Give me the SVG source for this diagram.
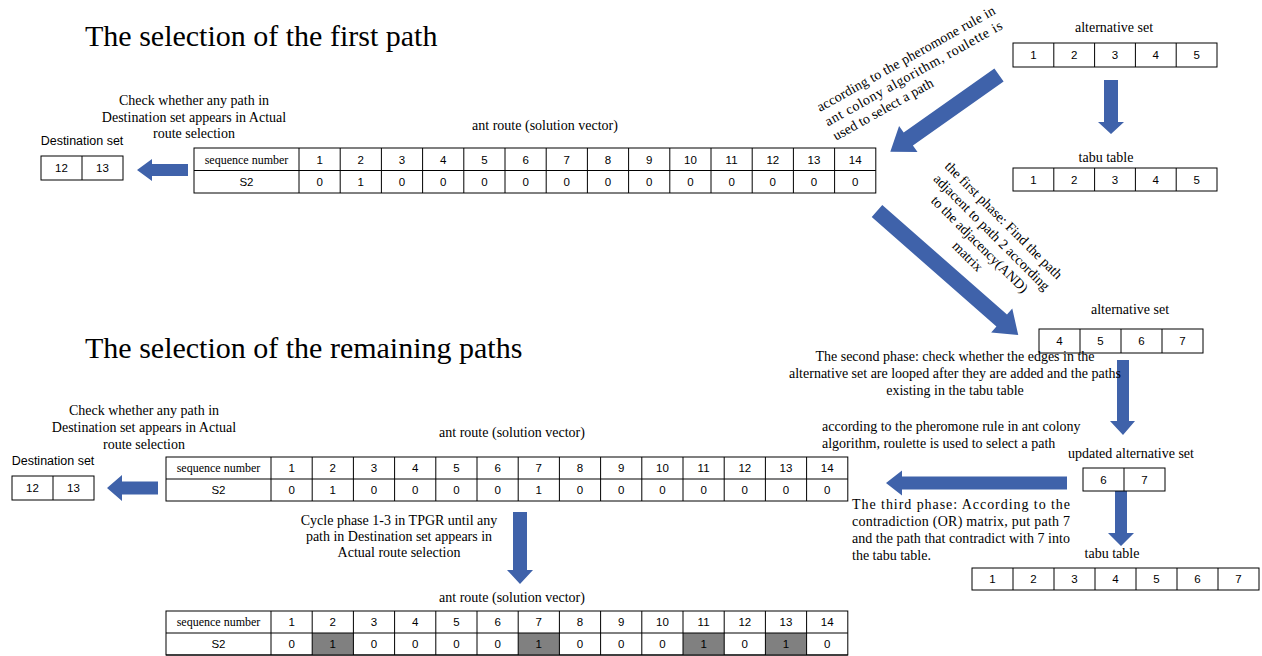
<svg xmlns="http://www.w3.org/2000/svg" width="1262" height="656" viewBox="0 0 1262 656">
<style>
.bg{fill:#fff}
.cell{fill:#fff;stroke:#000;stroke-width:1}
.grid{fill:none;stroke:#000;stroke-width:1}
.hl{fill:#808080}
.n{font-family:"Liberation Sans",Arial,sans-serif;font-size:11.5px;text-anchor:middle;fill:#000}
.s{font-family:"Liberation Serif","Times New Roman",serif;font-size:12px;text-anchor:middle;fill:#000}
.t{font-family:"Liberation Serif","Times New Roman",serif;font-size:14px;fill:#000}
.tc{font-family:"Liberation Serif","Times New Roman",serif;font-size:14px;fill:#000;text-anchor:middle}
.lab{font-family:"Liberation Sans",Arial,sans-serif;font-size:12.5px;fill:#000;text-anchor:middle}
.title{font-family:"Liberation Serif","Times New Roman",serif;font-size:30px;fill:#000}
.arr{fill:#3F62AA}
</style>
<rect class="bg" x="0" y="0" width="1262" height="656"/>

<g id="titles">
<text class="title" x="85" y="46">The selection of the first path</text>
<text class="title" x="85" y="358">The selection of the remaining paths</text>
</g>

<g id="connectors">
<polygon class="arr" points="188,164 152,164 152,159 137,170 152,181 152,176 188,176"/>
<polygon class="arr" transform="translate(999,75) rotate(144.8)" points="0,-8 111,-8 111,-16 133,0 111,16 111,8 0,8"/>
<polygon class="arr" points="1104,80 1118,80 1118,122 1124,122 1111,134 1098,122 1104,122"/>
<polygon class="arr" transform="translate(877,211) rotate(41.3)" points="0,-8 166,-8 166,-16 188,0 166,16 166,8 0,8"/>
<polygon class="arr" points="1117,360 1129,360 1129,421 1135,421 1123,435 1110,421 1117,421"/>
<polygon class="arr" points="1067,476.5 902,476.5 902,470.5 886,483 902,495.5 902,489.5 1067,489.5"/>
<polygon class="arr" points="1115,491 1127,491 1127,533 1134,533 1121,546 1108,533 1115,533"/>
<polygon class="arr" points="158,481.5 122,481.5 122,475 107,488 122,501 122,494.5 158,494.5"/>
<polygon class="arr" points="513,512 527,512 527,570 533,570 520,584 507,570 513,570"/>
</g>

<g id="dest-set-1">
<text class="lab" x="82" y="145">Destination set</text>
<rect class="cell" x="41" y="156" width="82" height="24"/>
<path class="grid" d="M82 156V180"/>
<text class="n" x="61.5" y="172">12</text>
<text class="n" x="102.5" y="172">13</text>
</g>

<g id="check-text-1">
<text class="tc" x="194" y="105">Check whether any path in</text>
<text class="tc" x="194" y="122">Destination set appears in Actual</text>
<text class="tc" x="194" y="138">route selection</text>
</g>

<g id="ant-route-1">
<text class="tc" x="545" y="130">ant route (solution vector)</text>
<rect class="cell" x="194" y="148" width="681.8" height="45"/>
<path class="grid" d="M194 170.5H875.8M299 148V193M340.2 148V193M381.4 148V193M422.6 148V193M463.8 148V193M505 148V193M546.2 148V193M587.4 148V193M628.6 148V193M669.8 148V193M711 148V193M752.2 148V193M793.4 148V193M834.6 148V193"/>
<text class="s" x="246.5" y="163.5">sequence number</text>
<text class="n" x="246.5" y="186">S2</text>
<text class="n" x="319.6" y="163.5">1</text><text class="n" x="360.8" y="163.5">2</text><text class="n" x="402" y="163.5">3</text><text class="n" x="443.2" y="163.5">4</text><text class="n" x="484.4" y="163.5">5</text><text class="n" x="525.6" y="163.5">6</text><text class="n" x="566.8" y="163.5">7</text><text class="n" x="608" y="163.5">8</text><text class="n" x="649.2" y="163.5">9</text><text class="n" x="690.4" y="163.5">10</text><text class="n" x="731.6" y="163.5">11</text><text class="n" x="772.8" y="163.5">12</text><text class="n" x="814" y="163.5">13</text><text class="n" x="855.2" y="163.5">14</text>
<text class="n" x="319.6" y="186">0</text><text class="n" x="360.8" y="186">1</text><text class="n" x="402" y="186">0</text><text class="n" x="443.2" y="186">0</text><text class="n" x="484.4" y="186">0</text><text class="n" x="525.6" y="186">0</text><text class="n" x="566.8" y="186">0</text><text class="n" x="608" y="186">0</text><text class="n" x="649.2" y="186">0</text><text class="n" x="690.4" y="186">0</text><text class="n" x="731.6" y="186">0</text><text class="n" x="772.8" y="186">0</text><text class="n" x="814" y="186">0</text><text class="n" x="855.2" y="186">0</text>
</g>

<g id="roulette-text-1" transform="translate(820,112) rotate(-29.2)">
<text class="t" x="0" y="0" textLength="202" lengthAdjust="spacing">according to the pheromone rule in</text>
<text class="t" x="0" y="16.5" textLength="201" lengthAdjust="spacing">ant  colony  algorithm,  roulette  is</text>
<text class="t" x="0" y="33">used to select a path</text>
</g>

<g id="alt-set-1">
<text class="tc" x="1114" y="32">alternative set</text>
<rect class="cell" x="1013" y="43" width="204" height="24"/>
<path class="grid" d="M1053.8 43V67M1094.6 43V67M1135.4 43V67M1176.2 43V67"/>
<text class="n" x="1033.4" y="59">1</text><text class="n" x="1074.2" y="59">2</text><text class="n" x="1115" y="59">3</text><text class="n" x="1155.8" y="59">4</text><text class="n" x="1196.6" y="59">5</text>
</g>

<g id="tabu-1">
<text class="tc" x="1106" y="162">tabu table</text>
<rect class="cell" x="1013" y="168" width="204" height="23"/>
<path class="grid" d="M1053.8 168V191M1094.6 168V191M1135.4 168V191M1176.2 168V191"/>
<text class="n" x="1033.4" y="183.5">1</text><text class="n" x="1074.2" y="183.5">2</text><text class="n" x="1115" y="183.5">3</text><text class="n" x="1155.8" y="183.5">4</text><text class="n" x="1196.6" y="183.5">5</text>
</g>

<g id="phase1-text" transform="translate(1004,220) rotate(45)">
<text class="tc" x="0" y="5">the first phase: Find the path</text>
<text class="tc" x="0" y="22">adjacent to path 2 according</text>
<text class="tc" x="0" y="39">to the adjacency(AND)</text>
<text class="tc" x="0" y="56">matrix</text>
</g>

<g id="alt-set-2">
<text class="tc" x="1130" y="314">alternative set</text>
<rect class="cell" x="1039" y="329" width="164" height="24"/>
<path class="grid" d="M1080 329V353M1121 329V353M1162 329V353"/>
<text class="n" x="1059.5" y="345">4</text><text class="n" x="1100.5" y="345">5</text><text class="n" x="1141.5" y="345">6</text><text class="n" x="1182.5" y="345">7</text>
</g>

<g id="phase2-text">
<text class="tc" x="955" y="361">The second phase: check whether the edges in the</text>
<text class="tc" x="955" y="378">alternative set are looped after they are added and the paths</text>
<text class="tc" x="955" y="395">existing in the tabu table</text>
</g>

<g id="roulette-text-2">
<text class="t" x="822" y="431">according to the pheromone rule in ant colony</text>
<text class="t" x="822" y="448">algorithm, roulette is used to select a path</text>
</g>

<g id="updated-alt-set">
<text class="tc" x="1131" y="458">updated alternative set</text>
<rect class="cell" x="1083" y="468" width="82" height="23"/>
<path class="grid" d="M1124 468V491"/>
<text class="n" x="1103.5" y="483.5">6</text><text class="n" x="1144.5" y="483.5">7</text>
</g>

<g id="phase3-text">
<text class="t" x="852" y="509" textLength="218" lengthAdjust="spacing">The third phase: According to the</text>
<text class="t" x="852" y="526" textLength="218" lengthAdjust="spacing">contradiction (OR) matrix, put path 7</text>
<text class="t" x="852" y="543" textLength="218" lengthAdjust="spacing">and the path that contradict with 7 into</text>
<text class="t" x="852" y="560">the tabu table.</text>
</g>

<g id="tabu-2">
<text class="tc" x="1112" y="558">tabu table</text>
<rect class="cell" x="972" y="568" width="287" height="22"/>
<path class="grid" d="M1013 568V590M1054 568V590M1095 568V590M1136 568V590M1177 568V590M1218 568V590"/>
<text class="n" x="992.5" y="583">1</text><text class="n" x="1033.5" y="583">2</text><text class="n" x="1074.5" y="583">3</text><text class="n" x="1115.5" y="583">4</text><text class="n" x="1156.5" y="583">5</text><text class="n" x="1197.5" y="583">6</text><text class="n" x="1238.5" y="583">7</text>
</g>

<g id="check-text-2">
<text class="tc" x="144" y="415">Check whether any path in</text>
<text class="tc" x="144" y="432">Destination set appears in Actual</text>
<text class="tc" x="144" y="449">route selection</text>
</g>

<g id="dest-set-2">
<text class="lab" x="53" y="465">Destination set</text>
<rect class="cell" x="12" y="476" width="82" height="24"/>
<path class="grid" d="M53 476V500"/>
<text class="n" x="32.5" y="492">12</text>
<text class="n" x="73.5" y="492">13</text>
</g>

<g id="ant-route-2">
<text class="tc" x="512" y="437">ant route (solution vector)</text>
<rect class="cell" x="166" y="457" width="681.8" height="44"/>
<path class="grid" d="M166 479H847.8M271 457V501M312.2 457V501M353.4 457V501M394.6 457V501M435.8 457V501M477 457V501M518.2 457V501M559.4 457V501M600.6 457V501M641.8 457V501M683 457V501M724.2 457V501M765.4 457V501M806.6 457V501"/>
<text class="s" x="218.5" y="472">sequence number</text>
<text class="n" x="218.5" y="494">S2</text>
<text class="n" x="291.6" y="472">1</text><text class="n" x="332.8" y="472">2</text><text class="n" x="374" y="472">3</text><text class="n" x="415.2" y="472">4</text><text class="n" x="456.4" y="472">5</text><text class="n" x="497.6" y="472">6</text><text class="n" x="538.8" y="472">7</text><text class="n" x="580" y="472">8</text><text class="n" x="621.2" y="472">9</text><text class="n" x="662.4" y="472">10</text><text class="n" x="703.6" y="472">11</text><text class="n" x="744.8" y="472">12</text><text class="n" x="786" y="472">13</text><text class="n" x="827.2" y="472">14</text>
<text class="n" x="291.6" y="494">0</text><text class="n" x="332.8" y="494">1</text><text class="n" x="374" y="494">0</text><text class="n" x="415.2" y="494">0</text><text class="n" x="456.4" y="494">0</text><text class="n" x="497.6" y="494">0</text><text class="n" x="538.8" y="494">1</text><text class="n" x="580" y="494">0</text><text class="n" x="621.2" y="494">0</text><text class="n" x="662.4" y="494">0</text><text class="n" x="703.6" y="494">0</text><text class="n" x="744.8" y="494">0</text><text class="n" x="786" y="494">0</text><text class="n" x="827.2" y="494">0</text>
</g>

<g id="cycle-text">
<text class="tc" x="399" y="525">Cycle phase 1-3 in TPGR until  any</text>
<text class="tc" x="399" y="541">path in Destination set appears in</text>
<text class="tc" x="399" y="557">Actual route selection</text>
</g>

<g id="ant-route-3">
<text class="tc" x="512" y="602">ant route (solution vector)</text>
<rect class="cell" x="166" y="611" width="681.8" height="44"/>
<rect class="hl" x="312.2" y="633" width="41.2" height="22"/>
<rect class="hl" x="518.2" y="633" width="41.2" height="22"/>
<rect class="hl" x="683" y="633" width="41.2" height="22"/>
<rect class="hl" x="765.4" y="633" width="41.2" height="22"/>
<path class="grid" d="M166 633H847.8M271 611V655M312.2 611V655M353.4 611V655M394.6 611V655M435.8 611V655M477 611V655M518.2 611V655M559.4 611V655M600.6 611V655M641.8 611V655M683 611V655M724.2 611V655M765.4 611V655M806.6 611V655M166 655H847.8"/>
<text class="s" x="218.5" y="626">sequence number</text>
<text class="n" x="218.5" y="648">S2</text>
<text class="n" x="291.6" y="626">1</text><text class="n" x="332.8" y="626">2</text><text class="n" x="374" y="626">3</text><text class="n" x="415.2" y="626">4</text><text class="n" x="456.4" y="626">5</text><text class="n" x="497.6" y="626">6</text><text class="n" x="538.8" y="626">7</text><text class="n" x="580" y="626">8</text><text class="n" x="621.2" y="626">9</text><text class="n" x="662.4" y="626">10</text><text class="n" x="703.6" y="626">11</text><text class="n" x="744.8" y="626">12</text><text class="n" x="786" y="626">13</text><text class="n" x="827.2" y="626">14</text>
<text class="n" x="291.6" y="648">0</text><text class="n" x="332.8" y="648">1</text><text class="n" x="374" y="648">0</text><text class="n" x="415.2" y="648">0</text><text class="n" x="456.4" y="648">0</text><text class="n" x="497.6" y="648">0</text><text class="n" x="538.8" y="648">1</text><text class="n" x="580" y="648">0</text><text class="n" x="621.2" y="648">0</text><text class="n" x="662.4" y="648">0</text><text class="n" x="703.6" y="648">1</text><text class="n" x="744.8" y="648">0</text><text class="n" x="786" y="648">1</text><text class="n" x="827.2" y="648">0</text>
</g>
</svg>
